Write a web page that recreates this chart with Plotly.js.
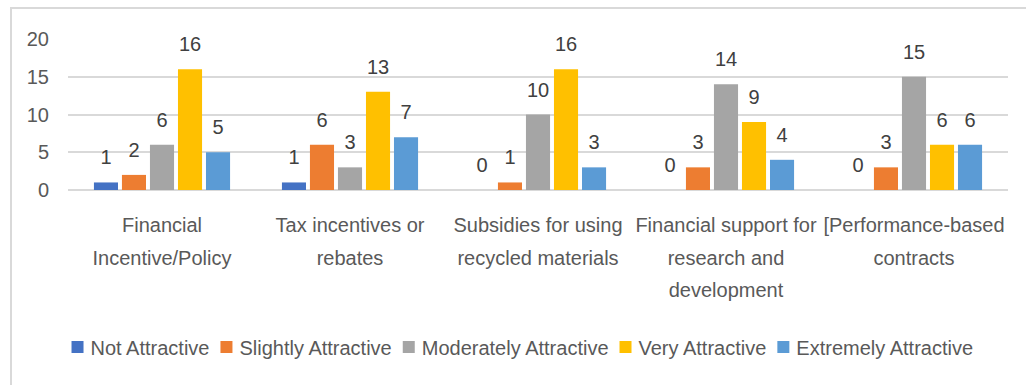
<!DOCTYPE html>
<html>
<head>
<meta charset="utf-8">
<script src="https://cdn.plot.ly/plotly-3.0.1.min.js"></script>
<style>
  html, body { margin: 0; padding: 0; background: #ffffff; }
  #wrap { position: relative; width: 1026px; height: 385px; overflow: hidden; }
  #chart { position: absolute; left: 0; top: 0; width: 1026px; height: 385px; }
  #frame { position: absolute; left: 10px; top: 7px; width: 1030px; height: 400px;
           border-left: 2px solid #d9d9d9; border-top: 2px solid #d9d9d9; pointer-events: none; }
  /* pull legend swatches closer to their labels */
  #chart .legend .legendsymbols { transform: translateX(7px); }
</style>
</head>
<body>
<div id="wrap">
  <div id="chart"></div>
  <div id="frame"></div>
</div>
<script>
// Survey: how attractive each incentive option is rated
const categories = [
  'Financial<br>Incentive/Policy',
  'Tax incentives or<br>rebates',
  'Subsidies for using<br>recycled materials',
  'Financial support for<br>research and<br>development',
  '[Performance-based<br>contracts'
];
const seriesNames = ['Not Attractive', 'Slightly Attractive', 'Moderately Attractive', 'Very Attractive', 'Extremely Attractive'];
const notAttractive        = [1, 1, 0, 0, 0];
const slightlyAttractive   = [2, 6, 1, 3, 3];
const moderatelyAttractive = [6, 3, 10, 14, 15];
const veryAttractive       = [16, 13, 16, 9, 6];
const extremelyAttractive  = [5, 7, 3, 4, 6];
const yTicks = [0, 5, 10, 15, 20];

const seriesValues = [notAttractive, slightlyAttractive, moderatelyAttractive, veryAttractive, extremelyAttractive];
const colors = ['#4472C4', '#ED7D31', '#A5A5A5', '#FFC000', '#5B9BD5'];
const FONT = '"Liberation Sans", Arial, sans-serif';
const GREY = '#595959';
const LABEL_GREY = '#404040';

// Category labels: glyphs at 20px, line pitch taken from a larger base size
const tickLabels = categories.map(c =>
  c.split('<br>').map(line => '<span style="font-size:20px">' + line + '</span>').join('<br>'));

const traces = seriesValues.map((vals, i) => ({
  type: 'bar',
  name: seriesNames[i],
  x: categories,
  y: vals,
  marker: { color: colors[i] },
  // value label plus a short spacer line so the number floats above the bar
  texttemplate: '<span style="font-size:20px">%{y}</span><br>\u00a0',
  textposition: 'outside',
  constraintext: 'none',
  cliponaxis: false,
  textfont: { family: FONT, size: 10, color: LABEL_GREY },
  hoverinfo: 'x+y+name'
}));

const layout = {
  width: 1026,
  height: 385,
  margin: { l: 68, r: 18, t: 39, b: 195 },
  paper_bgcolor: '#ffffff',
  plot_bgcolor: '#ffffff',
  font: { family: FONT, color: GREY, size: 20 },
  barmode: 'group',
  bargap: 0.255,
  bargroupgap: 0.14,
  showlegend: true,
  legend: {
    orientation: 'h',
    x: 0.483, xanchor: 'center',
    y: -1.04, yanchor: 'middle',
    font: { family: FONT, size: 20, color: GREY },
    itemwidth: 30,
    indentation: -15,
    tracegroupgap: 0
  },
  xaxis: {
    type: 'category',
    tickvals: categories,
    ticktext: tickLabels,
    tickangle: 0,
    showline: false,
    showgrid: false,
    ticks: '',
    tickfont: { family: FONT, size: 25, color: GREY },
    ticklabelstandoff: 16
  },
  yaxis: {
    range: [0, 20],
    tickvals: yTicks,
    ticktext: yTicks.map(String),
    showgrid: true,
    gridcolor: '#d9d9d9',
    gridwidth: 2,
    zeroline: true,
    zerolinecolor: '#d9d9d9',
    zerolinewidth: 2,
    showline: false,
    ticks: '',
    ticklabelstandoff: 18,
    tickfont: { family: FONT, size: 20, color: GREY }
  }
};

Plotly.newPlot('chart', traces, layout, { displayModeBar: false, staticPlot: true });
</script>
</body>
</html>
